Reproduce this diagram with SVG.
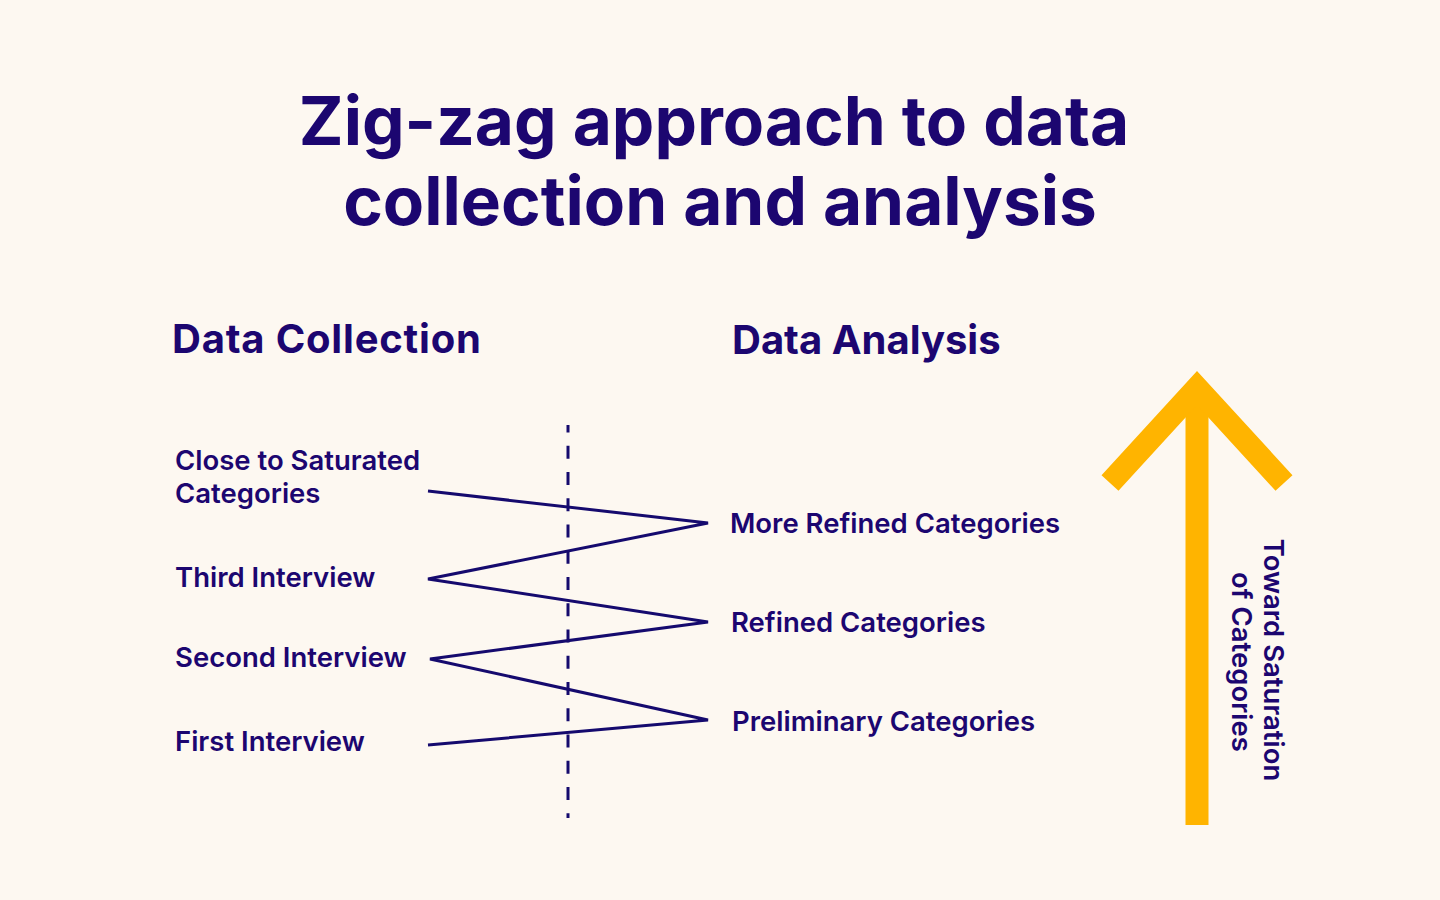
<svg xmlns="http://www.w3.org/2000/svg" width="1440" height="900" viewBox="0 0 1440 900">
<style>
.t{font-family:Inter,"Liberation Sans",sans-serif;font-weight:700;fill:#1c0670}
.h{font-size:40px}
.l{font-family:Inter,"Liberation Sans",sans-serif;font-weight:600;fill:#1c0670;font-size:27.5px}
.zz{fill:none;stroke:#150a6e;stroke-width:3;stroke-linejoin:miter}
</style>
<rect width="1440" height="900" fill="#fdf8f1"/>
<g id="title">
<text class="t" x="714" y="145" font-size="67.5" text-anchor="middle">Zig-zag approach to data</text>
<text class="t" x="720" y="225" font-size="67.5" text-anchor="middle">collection and analysis</text>
</g>
<g id="col-headers">
<text class="t h" x="172" y="353" letter-spacing="0.8">Data Collection</text>
<text class="t h" x="732" y="354">Data Analysis</text>
</g>
<g id="n-close"><text class="l" x="175" y="470">Close to Saturated</text><text class="l" x="175" y="503">Categories</text></g>
<g id="n-third"><text class="l" x="175" y="587">Third Interview</text></g>
<g id="n-second"><text class="l" x="175" y="667">Second Interview</text></g>
<g id="n-first"><text class="l" x="175" y="751">First Interview</text></g>
<g id="n-more"><text class="l" x="730" y="533">More Refined Categories</text></g>
<g id="n-refined"><text class="l" x="731" y="632">Refined Categories</text></g>
<g id="n-prelim"><text class="l" x="732" y="731">Preliminary Categories</text></g>
<g id="connectors">
<line x1="568" y1="425" x2="568" y2="818" stroke="#150a6e" stroke-width="3" stroke-dasharray="13,13.25" stroke-dashoffset="5.5"/>
<polyline class="zz" points="428,491 708,523 428,579 708,622 430,659 708,720 428,745"/>
</g>
<g id="saturation-arrow">
<line x1="1197" y1="395" x2="1197" y2="825" stroke="#ffb400" stroke-width="23"/>
<polyline points="1110,483 1197,388 1284,483" fill="none" stroke="#ffb400" stroke-width="23" stroke-linejoin="miter"/>
<text class="l" font-weight="500" transform="translate(1264,660) rotate(90)" text-anchor="middle">Toward Saturation</text>
<text class="l" font-weight="500" transform="translate(1232,662) rotate(90)" text-anchor="middle">of Categories</text>
</g>
</svg>
